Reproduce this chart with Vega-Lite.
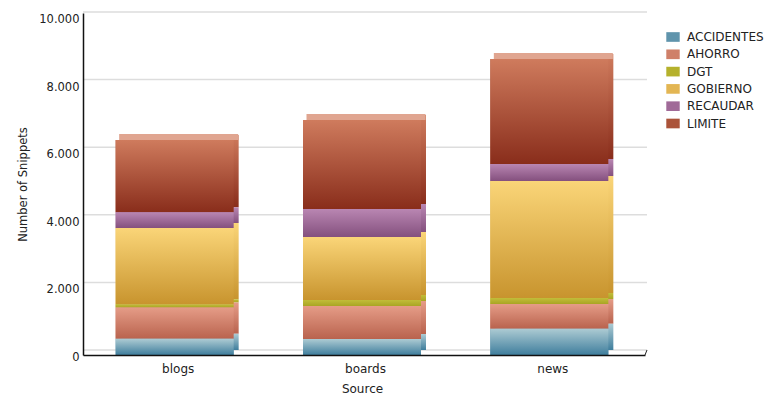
{
  "$schema": "https://vega.github.io/schema/vega-lite/v6.json",
  "width": 562,
  "height": 342,
  "autosize": {"type": "none"},
  "padding": {"left": 83, "top": 13, "right": 128, "bottom": 43},
  "background": "white",
  "config": {
    "view": {"stroke": null},
    "font": "DejaVu Sans"
  },
  "resolve": {"scale": {"x": "independent"}},
  "layer": [
    {
      "data": {"values": [{"tick": 0}, {"tick": 2000}, {"tick": 4000}, {"tick": 6000}, {"tick": 8000}, {"tick": 10000}]},
      "mark": {"type": "rule", "color": "#dddddd", "strokeWidth": 1.5, "yOffset": -5, "xOffset": 2},
      "encoding": {
        "y": {
          "field": "tick",
          "type": "quantitative",
          "scale": {"domain": [0, 10118], "nice": false},
          "axis": {
            "title": "Number of Snippets",
            "titleFont": "DejaVu Sans",
            "titleFontSize": 11.5,
            "titleFontWeight": "normal",
            "titleColor": "#222222",
            "titlePadding": 10,
            "values": [0, 2000, 4000, 6000, 8000, 10000],
            "labelExpr": "replace(format(datum.value, ','), ',', '.')",
            "labelFontSize": 11.5,
            "labelColor": "#222222",
            "labelPadding": 4,
            "labelOffset": 2.5,
            "ticks": false,
            "grid": false,
            "domainColor": "#111111",
            "domainWidth": 1.5,
            "zindex": 1
          }
        }
      }
    },
    {
      "data": {"values": [{"corner": "floor"}]},
      "mark": {"type": "rule", "color": "#222222", "strokeWidth": 1},
      "encoding": {
        "x": {"datum": 562, "type": "quantitative", "scale": {"domain": [0, 562], "range": [0, 562]}, "axis": null},
        "x2": {"datum": 564},
        "y": {"datum": 0, "type": "quantitative"},
        "y2": {"datum": 148}
      }
    },
    {
      "data": {
        "values": [
          {"source": "blogs", "topic": "LIMITE", "rank": 6, "snippets": 2140},
          {"source": "blogs", "topic": "RECAUDAR", "rank": 5, "snippets": 465},
          {"source": "blogs", "topic": "GOBIERNO", "rank": 4, "snippets": 2257},
          {"source": "blogs", "topic": "DGT", "rank": 3, "snippets": 95},
          {"source": "blogs", "topic": "AHORRO", "rank": 2, "snippets": 925},
          {"source": "blogs", "topic": "ACCIDENTES", "rank": 1, "snippets": 480},
          {"source": "boards", "topic": "LIMITE", "rank": 6, "snippets": 2630},
          {"source": "boards", "topic": "RECAUDAR", "rank": 5, "snippets": 830},
          {"source": "boards", "topic": "GOBIERNO", "rank": 4, "snippets": 1860},
          {"source": "boards", "topic": "DGT", "rank": 3, "snippets": 180},
          {"source": "boards", "topic": "AHORRO", "rank": 2, "snippets": 975},
          {"source": "boards", "topic": "ACCIDENTES", "rank": 1, "snippets": 475},
          {"source": "news", "topic": "LIMITE", "rank": 6, "snippets": 3107},
          {"source": "news", "topic": "RECAUDAR", "rank": 5, "snippets": 500},
          {"source": "news", "topic": "GOBIERNO", "rank": 4, "snippets": 3464},
          {"source": "news", "topic": "DGT", "rank": 3, "snippets": 176},
          {"source": "news", "topic": "AHORRO", "rank": 2, "snippets": 730},
          {"source": "news", "topic": "ACCIDENTES", "rank": 1, "snippets": 780}
        ]
      },
      "transform": [
        {"stack": "snippets", "groupby": ["source"], "sort": [{"field": "rank", "order": "ascending"}], "as": ["base", "top"]}
      ],
      "encoding": {
        "x": {
          "field": "source",
          "type": "nominal",
          "scale": {"paddingInner": 0, "paddingOuter": 0},
          "axis": {
            "title": "Source",
            "titleFont": "DejaVu Sans",
            "titleFontSize": 12,
            "titleFontWeight": "normal",
            "titleColor": "#222222",
            "titlePadding": 9,
            "titleX": 279,
            "labelAngle": 0,
            "labelFontSize": 12,
            "labelColor": "#222222",
            "labelPadding": 8,
            "labelOffset": 1.5,
            "ticks": false,
            "domainColor": "#111111",
            "domainWidth": 1.5,
            "zindex": 1
          }
        },
        "y": {"field": "top", "type": "quantitative"},
        "y2": {"field": "base"}
      },
      "layer": [
        {
          "mark": {"type": "bar", "width": 118, "xOffset": -2},
          "encoding": {
            "color": {
              "field": "topic",
              "type": "nominal",
              "scale": {
                "domain": ["ACCIDENTES", "AHORRO", "DGT", "GOBIERNO", "RECAUDAR", "LIMITE"],
                "range": ["#5f94ac", "#cf8069", "#b5b12c", "#e3b653", "#a06a98", "#ab5339"]
              },
              "legend": {
                "orient": "none",
                "legendX": 583,
                "legendY": 17,
                "title": null,
                "symbolType": "M-1,-0.72H1V0.72H-1Z",
                "symbolSize": 180,
                "symbolStrokeWidth": 0,
                "labelFontSize": 12,
                "labelColor": "#222222",
                "labelOffset": 7,
                "rowPadding": 4.3,
                "labelLimit": 120,
                "symbolOpacity": 1,
                "encoding": {
                  "symbols": {
                    "fill": {
                      "signal": "{gradient: 'linear', x1: 0, y1: 0, x2: 0, y2: 1, stops: [{offset: 0, color: {ACCIDENTES: '#adcbd3', AHORRO: '#e59c87', DGT: '#c2bd3a', GOBIERNO: '#fad578', RECAUDAR: '#b986b2', LIMITE: '#cf7b5d'}[datum.value]}, {offset: 1, color: {ACCIDENTES: '#3f7e9d', AHORRO: '#b9634e', DGT: '#a9a524', GOBIERNO: '#c8942e', RECAUDAR: '#84507e', LIMITE: '#892d1b'}[datum.value]}]}"
                    }
                  }
                }
              }
            }
          }
        },
        {
          "encoding": {
            "fill": {
              "condition": [
                {"test": "datum.topic === 'ACCIDENTES'", "value": {"gradient": "linear", "x1": 0, "y1": 0, "x2": 0, "y2": 1, "stops": [{"offset": 0, "color": "#adcbd3"}, {"offset": 1, "color": "#3f7e9d"}]}},
                {"test": "datum.topic === 'AHORRO'", "value": {"gradient": "linear", "x1": 0, "y1": 0, "x2": 0, "y2": 1, "stops": [{"offset": 0, "color": "#e59c87"}, {"offset": 1, "color": "#b9634e"}]}},
                {"test": "datum.topic === 'DGT'", "value": {"gradient": "linear", "x1": 0, "y1": 0, "x2": 0, "y2": 1, "stops": [{"offset": 0, "color": "#c2bd3a"}, {"offset": 1, "color": "#a9a524"}]}},
                {"test": "datum.topic === 'GOBIERNO'", "value": {"gradient": "linear", "x1": 0, "y1": 0, "x2": 0, "y2": 1, "stops": [{"offset": 0, "color": "#fad578"}, {"offset": 1, "color": "#c8942e"}]}},
                {"test": "datum.topic === 'RECAUDAR'", "value": {"gradient": "linear", "x1": 0, "y1": 0, "x2": 0, "y2": 1, "stops": [{"offset": 0, "color": "#b986b2"}, {"offset": 1, "color": "#84507e"}]}}
              ],
              "value": {"gradient": "linear", "x1": 0, "y1": 0, "x2": 0, "y2": 1, "stops": [{"offset": 0, "color": "#cf7b5d"}, {"offset": 1, "color": "#892d1b"}]}
            }
          },
          "layer": [
            {"mark": {"type": "bar", "width": 118, "xOffset": 3, "yOffset": -5, "y2Offset": -5}},
            {"mark": {"type": "bar", "width": 118, "xOffset": -2}}
          ]
        },
        {
          "transform": [{"filter": "datum.topic === 'LIMITE'"}],
          "mark": {"type": "tick", "color": "#e0a590", "opacity": 1, "size": 119, "thickness": 6, "xOffset": 2, "yOffset": -3},
          "encoding": {"y2": null}
        }
      ]
    }
  ]
}
